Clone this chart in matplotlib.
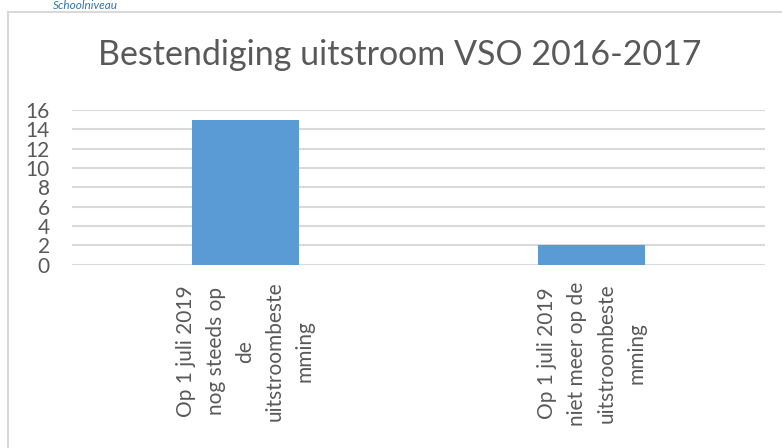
import matplotlib
matplotlib.use("Agg")
import matplotlib.pyplot as plt
from matplotlib.patches import Rectangle

categories = ["Op 1 juli 2019\nnog steeds op\nde\nuitstroombeste\nmming",
              "Op 1 juli 2019\nniet meer op de\nuitstroombeste\nmming"]
values = [15, 2]
yticks = [0, 2, 4, 6, 8, 10, 12, 14, 16]
title = "Bestendiging uitstroom VSO 2016-2017"

plt.rcParams['font.family'] = ['Lato', 'DejaVu Sans']
W, H = 782, 448
fig = plt.figure(figsize=(W / 100, H / 100), dpi=100)

# chart border
fig.patches.append(Rectangle((8 / W, -0.05), 1.1, 1 - 12 / H + 0.05, transform=fig.transFigure,
                             fill=False, edgecolor='#D9D9D9', linewidth=1.5))
# heading of the document, at the very top
fig.text(118 / W, 1.0, "Schoolniveau", color='#2E74B5', style='italic', fontsize=8.5,
         ha='right', va='top')

ax = fig.add_axes([72 / W, 1 - 264.7 / H, (765 - 72) / W, (264.7 - 110) / H])
x = range(len(categories))
ax.bar(x, values, width=0.31, color='#5B9BD5', zorder=3)
ax.set_xlim(-0.5, 1.5)
ax.set_ylim(0, 16)
ax.set_yticks(yticks)
ax.set_yticklabels([str(v) for v in yticks], fontsize=15, color='#595959')
ax.yaxis.grid(True, color='#D9D9D9', linewidth=1.5, zorder=0)
for s in ax.spines.values():
    s.set_visible(False)
ax.tick_params(axis='y', length=0, pad=16)
ax.tick_params(axis='x', length=0, pad=12)
ax.set_xticks(list(x))
ax.set_xticklabels(categories, rotation=90, fontsize=15, color='#595959',
                   multialignment='center', linespacing=1.6)
for t in ax.get_yticklabels():
    t.set_ha('right')
fig.text(400 / W, 1 - 55 / H, title, fontsize=24.5, color='#595959', ha='center', va='center')

fig.savefig("out.png", dpi=100)
